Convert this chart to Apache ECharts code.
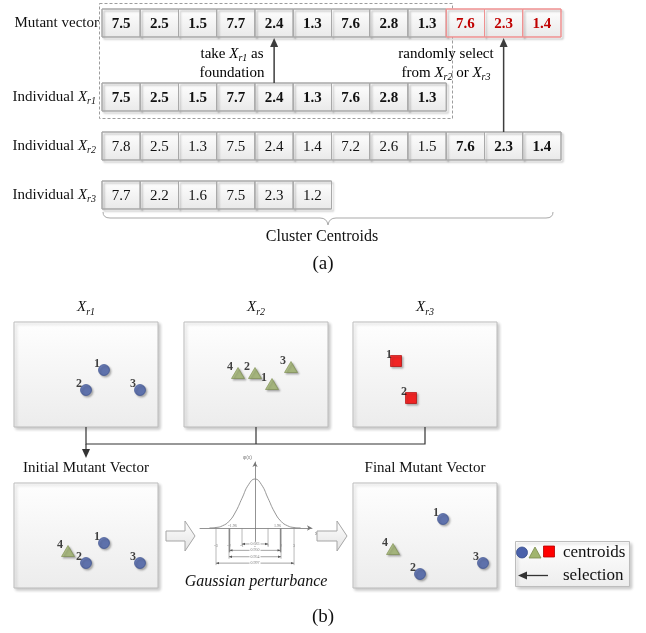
<!DOCTYPE html>
<html>
<head>
<meta charset="utf-8">
<script src="https://cdn.jsdelivr.net/npm/echarts@6/dist/echarts.min.js"></script>
<style>
  html, body { margin: 0; padding: 0; background: #fff; }
  #main { width: 646px; height: 633px; }
</style>
</head>
<body>
<div id="main"></div>
<script>
// ---------------- data ----------------
const mutantVector = [7.5, 2.5, 1.5, 7.7, 2.4, 1.3, 7.6, 2.8, 1.3, 7.6, 2.3, 1.4];
const individualR1 = [7.5, 2.5, 1.5, 7.7, 2.4, 1.3, 7.6, 2.8, 1.3];
const individualR2 = [7.8, 2.5, 1.3, 7.5, 2.4, 1.4, 7.2, 2.6, 1.5, 7.6, 2.3, 1.4];
const individualR3 = [7.7, 2.2, 1.6, 7.5, 2.3, 1.2];
const rowLabels = ['Mutant vector', 'Individual X_r1', 'Individual X_r2', 'Individual X_r3'];

// centroid positions inside each small panel: [x, y, label]
const xr1Circles = [[9.0, 5.7, '1'], [7.2, 3.7, '2'], [12.6, 3.7, '3']];
const xr2Triangles = [[5.4, 5.4, '4'], [7.1, 5.4, '2'], [8.8, 4.3, '1'], [10.7, 6.0, '3']];
const xr3Squares = [[4.3, 6.6, '1'], [5.8, 2.9, '2']];
const initCircles = [[9.0, 4.5, '1'], [7.2, 2.5, '2'], [12.6, 2.5, '3']];
const initTriangles = [[5.4, 3.7, '4']];
const finalCircles = [[9.0, 6.9, '1'], [6.7, 1.4, '2'], [13.0, 2.5, '3']];
const finalTriangles = [[4.0, 3.9, '4']];
const panelTitles = ['X_r1', 'X_r2', 'X_r3', 'Initial Mutant Vector', 'Final Mutant Vector'];

// standard normal curve
const gaussX = [-3.5, -3, -2.5, -2, -1.5, -1, -0.5, 0, 0.5, 1, 1.5, 2, 2.5, 3, 3.5];
const gaussY = [0.001, 0.004, 0.018, 0.054, 0.130, 0.242, 0.352, 0.399, 0.352, 0.242, 0.130, 0.054, 0.018, 0.004, 0.001];
const gaussBands = [[-1, 1, '0.683'], [-1.96, 1.96, '0.950'], [-2, 2, '0.954'], [-3, 3, '0.997']];
const gaussTicks = [-3, -2, -1, 0, 1, 2, 3];

// ---------------- helpers ----------------
const SERIF = 'Liberation Serif';
const rich = {
    n: { fontFamily: SERIF, fontSize: 15, lineHeight: 19, color: '#111' },
    i: { fontFamily: SERIF, fontSize: 15, lineHeight: 19, fontStyle: 'italic', color: '#111' },
    s: { fontFamily: SERIF, fontSize: 10, lineHeight: 11, fontStyle: 'italic', color: '#111', verticalAlign: 'bottom' }
};
// "Individual X_r1" -> rich tokens with italic X and subscript
function fmtSub(str) {
    return str.split(/(X_r\d)/).filter(p => p).map(p =>
        /^X_r\d$/.test(p) ? '{i|X}{s|' + p.slice(2) + '}' : '{n|' + p + '}'
    ).join('');
}
function vGrad(c0, c1) {
    return new echarts.graphic.LinearGradient(0, 0, 0, 1, [{ offset: 0, color: c0 }, { offset: 1, color: c1 }]);
}

const chart = echarts.init(document.getElementById('main'), null, { renderer: 'canvas' });

// ---------------- (a) rows of cells ----------------
const ROW_LEFT = 102, ROW_W = 459, CELL_H = 28;
const rowTops = [9, 83, 132, 181];
const rowValues = [mutantVector, individualR1, individualR2, individualR3];
const rowBoldFrom = [0, 0, 9, 99];
const rowRedFrom = [9, 99, 99, 99];

const grids = [], xAxes = [], yAxes = [], series = [];

rowValues.forEach((vals, r) => {
    grids.push({ left: ROW_LEFT, top: rowTops[r], width: ROW_W, height: CELL_H });
    xAxes.push({ gridIndex: r, type: 'category', data: mutantVector.map((_, i) => String(i)), show: false });
    yAxes.push({
        gridIndex: r, type: 'category', data: [rowLabels[r]],
        axisLine: { show: false }, axisTick: { show: false },
        axisLabel: { margin: r === 0 ? 3 : 6, formatter: v => fmtSub(v), rich: rich }
    });
    series.push({
        type: 'custom', xAxisIndex: r, yAxisIndex: r, clip: false, silent: true, z: 3,
        encode: { x: 0, y: 1 },
        data: vals.map((v, i) => [i, 0, v]),
        renderItem: (params, api) => {
            const idx = api.value(0);
            const c = api.coord([idx, 0]);
            const s = api.size([1, 1]);
            const red = idx >= rowRedFrom[r];
            const bold = idx >= rowBoldFrom[r];
            return {
                type: 'group',
                children: [{
                    type: 'rect',
                    shape: { x: c[0] - s[0] / 2, y: c[1] - s[1] / 2, width: s[0], height: s[1] },
                    style: {
                        fill: vGrad('#ffffff', '#e9e9e9'),
                        stroke: red ? '#ef9090' : '#a8a8a8', lineWidth: 1,
                        shadowColor: 'rgba(0,0,0,0.22)', shadowBlur: 2, shadowOffsetX: 2, shadowOffsetY: 2
                    }
                }, {
                    type: 'text',
                    style: {
                        x: c[0], y: c[1] + 1, text: api.value(2).toFixed(1),
                        align: 'center', verticalAlign: 'middle',
                        font: (bold ? 'bold ' : '') + '15px "' + SERIF + '"',
                        fill: red ? '#c00000' : '#111'
                    }
                }]
            };
        }
    });
});

// ---------------- (b) small panels ----------------
const PANEL_W = 144, PANEL_H = 105;
const panelPos = [[14, 322], [184, 322], [353, 322], [14, 483], [353, 483]];
panelPos.forEach((p, k) => {
    const gi = 4 + k;
    grids.push({
        left: p[0], top: p[1], width: PANEL_W, height: PANEL_H, show: true,
        backgroundColor: vGrad('#fefefe', '#ececec'), borderColor: '#bdbdbd', borderWidth: 1,
        shadowColor: 'rgba(0,0,0,0.2)', shadowBlur: 3, shadowOffsetX: 2, shadowOffsetY: 2
    });
    xAxes.push({
        gridIndex: gi, type: 'value', min: 0, max: 14.4, position: 'top',
        name: fmtSub(panelTitles[k]), nameLocation: 'middle', nameGap: 5,
        nameTextStyle: { rich: rich },
        axisLine: { show: false }, axisTick: { show: false }, axisLabel: { show: false }, splitLine: { show: false }
    });
    yAxes.push({ gridIndex: gi, type: 'value', min: 0, max: 10.5, show: false });
});

const markerStyle = {
    circle: { size: 11, item: { color: '#4a61aa', borderColor: '#364c8c', borderWidth: 0.8 } },
    triangle: { size: [13, 11], item: { color: '#a1b56f', borderColor: '#7a8c4c', borderWidth: 0.8 } },
    rect: { size: 11, item: { color: '#ff0000', borderColor: '#b00000', borderWidth: 0.8 } }
};
function markerSeries(gi, pts, symbol) {
    const m = markerStyle[symbol];
    return {
        type: 'scatter', xAxisIndex: gi, yAxisIndex: gi, data: pts, symbol: symbol, symbolSize: m.size,
        itemStyle: Object.assign({ shadowColor: 'rgba(0,0,0,0.35)', shadowBlur: 2, shadowOffsetX: 1.5, shadowOffsetY: 1.5 }, m.item),
        label: {
            show: true, position: 'left', distance: 0, offset: [2, -6],
            formatter: p => p.value[2],
            fontFamily: SERIF, fontWeight: 'bold', fontSize: 12, color: '#111'
        },
        silent: true
    };
}
series.push(markerSeries(4, xr1Circles, 'circle'));
series.push(markerSeries(5, xr2Triangles, 'triangle'));
series.push(markerSeries(6, xr3Squares, 'rect'));
series.push(markerSeries(7, initTriangles, 'triangle'));
series.push(markerSeries(7, initCircles, 'circle'));
series.push(markerSeries(8, finalTriangles, 'triangle'));
series.push(markerSeries(8, finalCircles, 'circle'));

// ---------------- gaussian sketch ----------------
const GI = 9;
grids.push({ left: 200, top: 462, width: 112, height: 79.5 });
xAxes.push({
    gridIndex: GI, type: 'value', min: -4.23, max: 4.38,
    name: 'x', nameGap: 3, nameTextStyle: { fontSize: 5, color: '#777', verticalAlign: 'top', padding: [3, 0, 0, 0] },
    axisLine: { onZero: true, symbol: ['none', 'arrow'], symbolSize: [4, 5], lineStyle: { color: '#777', width: 0.8 } },
    axisTick: { show: false }, splitLine: { show: false },
    axisLabel: { customValues: gaussTicks, fontSize: 4, color: '#777', margin: 2, fontFamily: SERIF }
});
yAxes.push({
    gridIndex: GI, type: 'value', min: -0.11, max: 0.537,
    name: 'φ(x)', nameGap: 2, nameTextStyle: { fontSize: 5, color: '#777', align: 'right', padding: [0, 3, 0, 0] },
    axisLine: { onZero: true, symbol: ['none', 'arrow'], symbolSize: [4, 5], lineStyle: { color: '#777', width: 0.8 } },
    axisTick: { show: false }, axisLabel: { show: false }, splitLine: { show: false }
});
series.push({
    type: 'line', xAxisIndex: GI, yAxisIndex: GI, smooth: true, showSymbol: false, silent: true,
    lineStyle: { color: '#8a8a8a', width: 0.9 },
    data: gaussX.map((x, i) => [x, gaussY[i]])
});
series.push({
    type: 'custom', xAxisIndex: GI, yAxisIndex: GI, clip: false, silent: true,
    data: gaussBands.map(b => [b[0], b[1]]),
    renderItem: (params, api) => {
        const i = params.dataIndex;
        const a = api.coord([api.value(0), 0]);
        const b = api.coord([api.value(1), 0]);
        const yd = api.coord([0, -0.13 - i * 0.052])[1];
        const ln = { stroke: '#8a8a8a', lineWidth: i === 1 ? 1.4 : 0.6 };
        const hd = { fill: '#555' };
        const kids = [
            { type: 'line', shape: { x1: a[0], y1: a[1], x2: a[0], y2: yd + 2 }, style: ln },
            { type: 'line', shape: { x1: b[0], y1: b[1], x2: b[0], y2: yd + 2 }, style: ln },
            { type: 'line', shape: { x1: a[0], y1: yd, x2: b[0], y2: yd }, style: { stroke: '#666', lineWidth: 0.6 } },
            { type: 'polygon', shape: { points: [[a[0], yd], [a[0] + 3, yd - 1.2], [a[0] + 3, yd + 1.2]] }, style: hd },
            { type: 'polygon', shape: { points: [[b[0], yd], [b[0] - 3, yd - 1.2], [b[0] - 3, yd + 1.2]] }, style: hd },
            {
                type: 'text', style: {
                    x: (a[0] + b[0]) / 2, y: yd, text: gaussBands[i][2], align: 'center', verticalAlign: 'middle',
                    font: '4px "' + SERIF + '"', fill: '#777', backgroundColor: '#fff', padding: [0, 1]
                }
            }
        ];
        if (i === 1) {
            kids.push({ type: 'text', style: { x: a[0] + 3, y: a[1] - 4, text: '-1.96', align: 'center', font: '4px "' + SERIF + '"', fill: '#777' } });
            kids.push({ type: 'text', style: { x: b[0] - 3, y: b[1] - 4, text: '1.96', align: 'center', font: '4px "' + SERIF + '"', fill: '#777' } });
        }
        return { type: 'group', children: kids };
    }
});

chart.setOption({
    animation: false,
    backgroundColor: '#fff',
    grid: grids,
    xAxis: xAxes,
    yAxis: yAxes,
    series: series
});

// ---------------- annotations ----------------
const px = (gi, v) => chart.convertToPixel({ gridIndex: gi }, v);
const ARROW = '#3d3d3d';
function upArrow(x, yFrom, yTo) {
    return [
        { type: 'line', shape: { x1: x, y1: yFrom, x2: x, y2: yTo + 8 }, style: { stroke: ARROW, lineWidth: 1.5 }, z: 50 },
        { type: 'polygon', shape: { points: [[x - 4, yTo + 9], [x + 4, yTo + 9], [x, yTo]] }, style: { fill: ARROW }, z: 50 }
    ];
}
function hollowArrow(x0, x1, x2, yc) {
    return {
        type: 'polygon', z: 5,
        shape: { points: [[x0, yc - 5], [x1, yc - 5], [x1, yc - 15], [x2, yc], [x1, yc + 15], [x1, yc + 5], [x0, yc + 5]] },
        style: { fill: vGrad('#ffffff', '#e2e2e2'), stroke: '#a5a5a5', lineWidth: 1 }
    };
}
// curly brace made of quadratic curves and straight runs
function brace(x0, x1, yTop, yMid, tipY) {
    const xm = (x0 + x1) / 2;
    const st = { fill: 'none', stroke: '#a9a9a9', lineWidth: 1 };
    return {
        type: 'group', children: [
            { type: 'bezierCurve', shape: { x1: x0, y1: yTop, cpx1: x0, cpy1: yMid, x2: x0 + 7, y2: yMid }, style: st },
            { type: 'line', shape: { x1: x0 + 7, y1: yMid, x2: xm - 8, y2: yMid }, style: st },
            { type: 'bezierCurve', shape: { x1: xm - 8, y1: yMid, cpx1: xm - 1, cpy1: yMid, x2: xm, y2: tipY }, style: st },
            { type: 'bezierCurve', shape: { x1: xm, y1: tipY, cpx1: xm + 1, cpy1: yMid, x2: xm + 8, y2: yMid }, style: st },
            { type: 'line', shape: { x1: xm + 8, y1: yMid, x2: x1 - 7, y2: yMid }, style: st },
            { type: 'bezierCurve', shape: { x1: x1 - 7, y1: yMid, cpx1: x1, cpy1: yMid, x2: x1, y2: yTop }, style: st }
        ]
    };
}

const a1 = px(0, [4, 0])[0];
const a2 = px(0, [10, 0])[0];
const mutBottom = rowTops[0] + CELL_H;
const cx1 = px(4, [0, 0])[0] + PANEL_W / 2;
const cx2 = px(5, [0, 0])[0] + PANEL_W / 2;
const cx3 = px(6, [0, 0])[0] + PANEL_W / 2;
const panelBottom = panelPos[0][1] + PANEL_H;
const busY = 444;

const graphics = [
    // dashed frame around mutant base and Xr1
    { type: 'rect', z: 0, shape: { x: 99.5, y: 3.5, width: 353, height: 115 }, style: { fill: 'none', stroke: '#9c9c9c', lineWidth: 1, lineDash: [3, 2] } },
    ...upArrow(a1, rowTops[1], mutBottom + 1),
    ...upArrow(a2, rowTops[2], mutBottom + 1),
    {
        type: 'text', z: 60, style: {
            x: 232, y: 63.5, align: 'center', verticalAlign: 'middle',
            text: fmtSub('take X_r1 as') + '\n' + fmtSub('foundation'), rich: rich
        }
    },
    {
        type: 'text', z: 60, style: {
            x: 446, y: 63.5, align: 'center', verticalAlign: 'middle',
            text: fmtSub('randomly select') + '\n' + fmtSub('from X_r2 or X_r3'), rich: rich
        }
    },
    brace(103, 553, 212, 218, 225),
    { type: 'text', style: { x: 322, y: 237, text: 'Cluster Centroids', align: 'center', verticalAlign: 'middle', font: '16px "' + SERIF + '"', fill: '#111' } },
    { type: 'text', style: { x: 323, y: 264, text: '(a)', align: 'center', verticalAlign: 'middle', font: '19px "' + SERIF + '"', fill: '#111' } },
    // connectors from the three panels
    { type: 'polyline', shape: { points: [[cx1, panelBottom], [cx1, busY], [cx3, busY], [cx3, panelBottom]] }, style: { fill: 'none', stroke: '#333', lineWidth: 1.2 } },
    { type: 'line', shape: { x1: cx2, y1: panelBottom, x2: cx2, y2: busY }, style: { stroke: '#333', lineWidth: 1.2 } },
    { type: 'line', shape: { x1: cx1, y1: busY, x2: cx1, y2: 450 }, style: { stroke: '#333', lineWidth: 1.2 } },
    { type: 'polygon', shape: { points: [[cx1 - 4, 449], [cx1 + 4, 449], [cx1, 458]] }, style: { fill: '#333' } },
    hollowArrow(166, 185, 195, 536),
    hollowArrow(317, 337, 347, 536),
    { type: 'text', style: { x: 256, y: 582, text: 'Gaussian perturbance', align: 'center', verticalAlign: 'middle', font: 'italic 16px "' + SERIF + '"', fill: '#111' } },
    // legend box
    {
        type: 'rect', shape: { x: 515.5, y: 541.5, width: 114, height: 45 },
        style: { fill: vGrad('#ffffff', '#ededed'), stroke: '#bdbdbd', lineWidth: 1, shadowColor: 'rgba(0,0,0,0.2)', shadowBlur: 3, shadowOffsetX: 2, shadowOffsetY: 2 }
    },
    { type: 'circle', shape: { cx: 522, cy: 552.5, r: 5.5 }, style: { fill: '#4a61aa', stroke: '#364c8c', lineWidth: 0.8 } },
    { type: 'polygon', shape: { points: [[529, 558], [541, 558], [535, 547]] }, style: { fill: '#a1b56f', stroke: '#7a8c4c', lineWidth: 0.8 } },
    { type: 'rect', shape: { x: 543.5, y: 546, width: 11, height: 11 }, style: { fill: '#ff0000', stroke: '#b00000', lineWidth: 0.8 } },
    { type: 'text', style: { x: 563, y: 553, text: 'centroids', align: 'left', verticalAlign: 'middle', font: '17px "' + SERIF + '"', fill: '#111' } },
    { type: 'line', shape: { x1: 548, y1: 575.5, x2: 526, y2: 575.5 }, style: { stroke: '#333', lineWidth: 1.3 } },
    { type: 'polygon', shape: { points: [[518, 575.5], [527, 571.5], [527, 579.5]] }, style: { fill: '#333' } },
    { type: 'text', style: { x: 563, y: 576, text: 'selection', align: 'left', verticalAlign: 'middle', font: '17px "' + SERIF + '"', fill: '#111' } },
    { type: 'text', style: { x: 323, y: 617, text: '(b)', align: 'center', verticalAlign: 'middle', font: '19px "' + SERIF + '"', fill: '#111' } }
];

chart.setOption({ graphic: graphics });
</script>
</body>
</html>
